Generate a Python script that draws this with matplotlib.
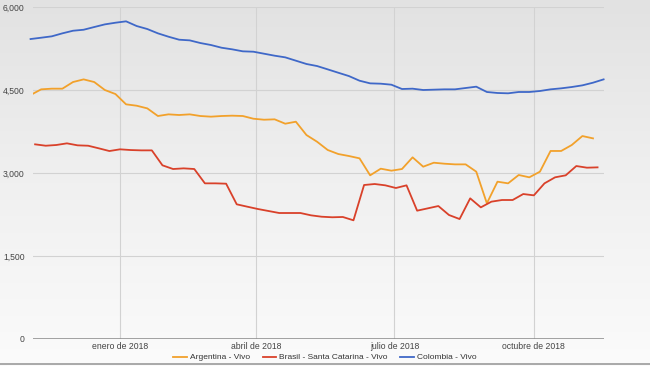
import numpy as np
import pandas as pd
import matplotlib
matplotlib.use("Agg")
from matplotlib import pyplot as plt

plt.rcParams['font.family'] = ['Liberation Sans', 'DejaVu Sans']

# weekly prices
arg_dates = pd.date_range("2017-11-03", periods=54, freq="7D")
arg_vals = [4409, 4512, 4524, 4524, 4644, 4692, 4644, 4500, 4427, 4241,
            4216, 4168, 4030, 4060, 4048, 4060, 4030, 4018, 4030, 4036,
            4030, 3981, 3963, 3970, 3891, 3927, 3686, 3565, 3416, 3343,
            3307, 3265, 2958, 3078, 3042, 3072, 3283, 3114, 3186, 3168,
            3156, 3156, 3024, 2452, 2843, 2813, 2964, 2922, 3024, 3398,
            3398, 3506, 3668, 3626]

bra_dates = pd.date_range("2017-11-06", periods=54, freq="7D")
bra_vals = [3518, 3493, 3506, 3536, 3500, 3493, 3446, 3397, 3428, 3415,
            3409, 3409, 3139, 3072, 3084, 3072, 2813, 2813, 2807, 2434,
            2391, 2349, 2313, 2277, 2277, 2277, 2235, 2210, 2200, 2205,
            2145, 2783, 2801, 2777, 2729, 2777, 2319, 2361, 2403, 2241,
            2168, 2542, 2379, 2482, 2512, 2512, 2620, 2596, 2813, 2922,
            2958, 3126, 3096, 3102]

col_dates = pd.date_range("2017-11-03", periods=55, freq="7D")
col_vals = [5421, 5445, 5470, 5524, 5571, 5589, 5638, 5686, 5716, 5741,
            5656, 5602, 5524, 5463, 5409, 5397, 5349, 5313, 5264, 5235,
            5199, 5192, 5156, 5120, 5090, 5030, 4970, 4933, 4873, 4812,
            4752, 4668, 4620, 4614, 4596, 4518, 4524, 4500, 4506, 4512,
            4512, 4536, 4560, 4464, 4446, 4440, 4464, 4464, 4482, 4512,
            4530, 4554, 4584, 4632, 4692]

series_names = ["Argentina - Vivo", "Brasil - Santa Catarina - Vivo", "Colombia - Vivo"]
tick_dates = pd.to_datetime(["2018-01-01", "2018-04-01", "2018-07-01", "2018-10-01"])
tick_labels = ["enero de 2018", "abril de 2018", "julio de 2018", "octubre de 2018"]
y_ticks = [0, 1500, 3000, 4500, 6000]

W, H = 650, 366
fig = plt.figure(figsize=(W / 100, H / 100), dpi=100)

# grey gradient background
bg = fig.add_axes([0, 0, 1, 1], zorder=-10)
grad = np.linspace(0, 1, 256).reshape(-1, 1)
cmap = matplotlib.colors.LinearSegmentedColormap.from_list("bg", ["#e2e2e2", "#f0f0f0", "#fbfbfb"])
bg.imshow(grad, aspect="auto", cmap=cmap, extent=[0, 1, 0, 1])
bg.axhline(0.006, color="#9a9a9a", lw=1.2)
bg.set_xlim(0, 1)
bg.set_ylim(0, 1)
bg.axis("off")

ax = fig.add_axes([33 / W, (H - 339) / H, (604 - 33) / W, (339 - 7) / H])
ax.set_facecolor("none")

jan1 = pd.Timestamp("2018-01-01")
px_per_day = 1.516
ax.set_xlim(jan1 + pd.Timedelta(days=(33 - 120) / px_per_day),
            jan1 + pd.Timedelta(days=(604 - 120) / px_per_day))
ax.set_ylim(0, 6000)

ax.plot(arg_dates, arg_vals, color="#f2a12b", lw=1.3, label=series_names[0])
ax.plot(bra_dates, bra_vals, color="#d9412a", lw=1.3, label=series_names[1])
ax.plot(col_dates, col_vals, color="#3f68c8", lw=1.3, label=series_names[2], clip_on=False)

ax.set_yticks(y_ticks)
ax.set_yticklabels([f"{v:,}" for v in y_ticks])
ax.set_xticks(tick_dates)
ax.set_xticklabels(tick_labels)
ax.tick_params(length=0, labelsize=6.2, labelcolor="#444444")
ax.tick_params(axis="y", pad=6)
ax.tick_params(axis="x", pad=2)
ax.grid(True, color="#d2d2d2", lw=0.8)
ax.axhline(0, color="#8a8a8a", lw=1.1)
for s in ax.spines.values():
    s.set_visible(False)

fig.legend(loc="center", bbox_to_anchor=(0.5, 8.5 / H), ncol=3, frameon=False,
           fontsize=6.0, handlelength=1.6, handletextpad=0.4, columnspacing=1.5,
           borderpad=0, labelcolor="#333333")

fig.savefig("out.png", dpi=100)
